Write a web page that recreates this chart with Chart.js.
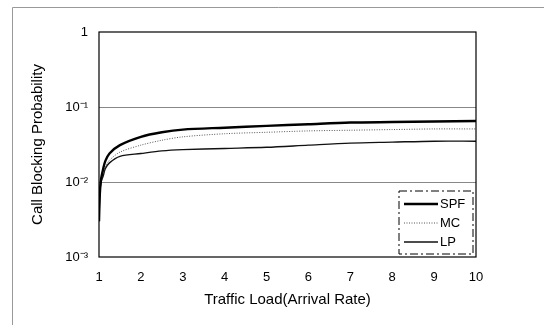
<!DOCTYPE html>
<html>
<head>
<meta charset="utf-8">
<script src="https://cdn.jsdelivr.net/npm/chart.js@4/dist/chart.umd.min.js"></script>
<style>
  html, body { margin: 0; padding: 0; background: #fff; }
  #wrap { width: 544px; height: 325px; }
</style>
</head>
<body>
<div id="wrap"><canvas id="blocking" width="544" height="325"></canvas></div>
<script>
// data ================================

const loads = [1, 1.02, 1.05, 1.1, 1.15, 1.25, 1.5, 2, 2.5, 3, 4, 5, 6, 7, 8, 9, 10];
const spf = [0.003, 0.007, 0.011, 0.015, 0.019, 0.024, 0.031, 0.040, 0.046, 0.050, 0.053, 0.056, 0.059, 0.062, 0.063, 0.064, 0.065];
const mc = [0.003, 0.007, 0.010, 0.013, 0.016, 0.0195, 0.025, 0.031, 0.036, 0.040, 0.044, 0.046, 0.048, 0.049, 0.050, 0.051, 0.051];
const lp = [0.003, 0.007, 0.010, 0.012, 0.015, 0.018, 0.022, 0.024, 0.026, 0.027, 0.028, 0.029, 0.031, 0.033, 0.034, 0.035, 0.035];
const xTicks = [1, 2, 3, 4, 5, 6, 7, 8, 9, 10];
const yTicks = { 1: "1", 0.1: "10\u207B\u00B9", 0.01: "10\u207B\u00B2", 0.001: "10\u207B\u00B3" };

const font = "'Liberation Sans', Arial, sans-serif";

function points(ys) {
  return loads.map((x, i) => ({ x: x, y: ys[i] }));
}

// frame, plot border and legend box ===========

const decor = {
  id: "decor",
  beforeDraw(chart) {
    const c = chart.ctx;
    c.save();
    c.strokeStyle = "#999";
    c.lineWidth = 1;
    c.beginPath();
    c.moveTo(12.5, 325);
    c.lineTo(12.5, 7.5);
    c.lineTo(544, 7.5);
    c.stroke();
    c.restore();
  },
  afterDatasetsDraw(chart) {
    const c = chart.ctx;
    const a = chart.chartArea;
    c.save();
    c.strokeStyle = "#000";
    c.lineWidth = 1.2;
    c.strokeRect(a.left, a.top, a.right - a.left, a.bottom - a.top);

    // legend
    const bx = a.right - 77, by = a.bottom - 66, bw = 74, bh = 63;
    c.fillStyle = "#fff";
    c.fillRect(bx, by, bw, bh);
    c.setLineDash([8, 3, 2, 3]);
    c.lineWidth = 1;
    c.strokeRect(bx, by, bw, bh);
    c.setLineDash([]);
    c.font = "13px " + font;
    c.textBaseline = "middle";
    chart.data.datasets.forEach((ds, i) => {
      const yy = by + 13 + i * 19;
      c.strokeStyle = ds.borderColor;
      c.lineWidth = ds.borderWidth;
      c.setLineDash(ds.borderDash || []);
      c.beginPath();
      c.moveTo(bx + 5, yy);
      c.lineTo(bx + 39, yy);
      c.stroke();
      c.setLineDash([]);
      c.fillStyle = "#000";
      c.fillText(ds.label, bx + 41, yy);
    });
    c.restore();
  },
};

const ctx = document.getElementById("blocking").getContext("2d");

const blocking = new Chart(ctx, {
  type: "line",
  data: {
    datasets: [
      { label: "SPF", data: points(spf), borderColor: "#000", borderWidth: 2.4 },
      { label: "MC", data: points(mc), borderColor: "#555", borderWidth: 1, borderDash: [1, 1.5] },
      { label: "LP", data: points(lp), borderColor: "#111", borderWidth: 1.4 },
    ],
  },
  options: {
    responsive: false,
    animation: false,
    elements: { point: { radius: 0 }, line: { tension: 0.3 } },
    layout: { padding: { left: 29, right: 68, top: 32, bottom: 12 } },
    plugins: { legend: { display: false }, tooltip: { enabled: false } },
    scales: {
      x: {
        type: "linear",
        min: 1,
        max: 10,
        afterBuildTicks(scale) {
          scale.ticks = xTicks.map((v) => ({ value: v }));
        },
        afterFit(scale) {
          scale.height = 56;
        },
        grid: { display: false, drawTicks: false },
        border: { display: false },
        ticks: { color: "#000", font: { family: font, size: 13 }, padding: 13, maxRotation: 0 },
        title: {
          display: true,
          text: "Traffic Load(Arrival Rate)",
          color: "#000",
          font: { family: font, size: 15 },
          padding: { top: 4 },
        },
      },
      y: {
        type: "logarithmic",
        min: 0.001,
        max: 1,
        afterBuildTicks(scale) {
          scale.ticks = Object.keys(yTicks).map((v) => ({ value: Number(v) }));
        },
        afterFit(scale) {
          scale.width = 70;
        },
        grid: {
          color: (g) => (g.tick && (g.tick.value === 0.1 || g.tick.value === 0.01) ? "#888" : "rgba(0,0,0,0)"),
          drawTicks: false,
        },
        border: { display: false },
        ticks: {
          color: "#000",
          font: { family: font, size: 13 },
          padding: 11,
          callback: (v) => yTicks[v] || "",
        },
        title: {
          display: true,
          text: "Call Blocking Probability",
          color: "#000",
          font: { family: font, size: 15 },
          padding: { top: 0, bottom: 4 },
        },
      },
    },
  },
  plugins: [decor],
});
</script>
</body>
</html>
